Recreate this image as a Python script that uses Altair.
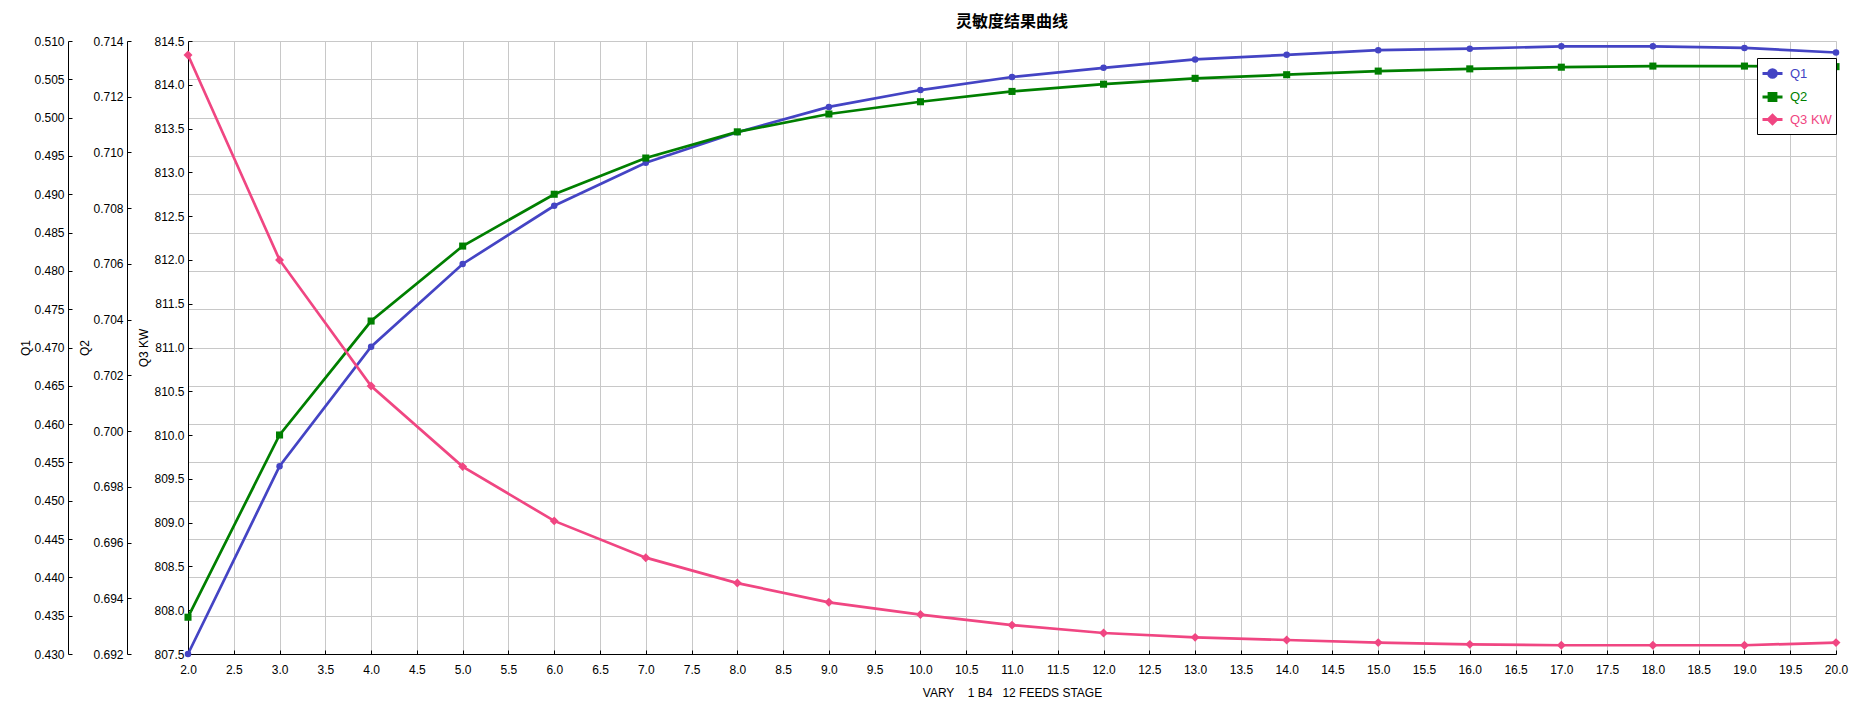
import altair as alt
import pandas as pd

# ---- data ----
stages = [2, 3, 4, 5, 6, 7, 8, 9, 10, 11, 12, 13, 14, 15, 16, 17, 18, 19, 20]
q1 = [0.4300, 0.4545, 0.4701, 0.4809, 0.4885, 0.4941, 0.4981, 0.5014, 0.5036, 0.5053,
      0.5065, 0.5076, 0.5082, 0.5088, 0.5090, 0.5093, 0.5093, 0.5091, 0.5085]
q2 = [0.69332, 0.69986, 0.70395, 0.70664, 0.70850, 0.70980, 0.71074, 0.71138, 0.71182, 0.71219,
      0.71245, 0.71266, 0.71279, 0.71292, 0.71300, 0.71306, 0.71310, 0.71310, 0.71308]
q3 = [814.34, 812.00, 810.56, 809.64, 809.02, 808.60, 808.31, 808.09, 807.95, 807.83,
      807.74, 807.69, 807.66, 807.63, 807.61, 807.60, 807.60, 807.60, 807.63]

x_ticks = [2.0, 2.5, 3.0, 3.5, 4.0, 4.5, 5.0, 5.5, 6.0, 6.5, 7.0, 7.5, 8.0, 8.5, 9.0, 9.5,
           10.0, 10.5, 11.0, 11.5, 12.0, 12.5, 13.0, 13.5, 14.0, 14.5, 15.0, 15.5, 16.0,
           16.5, 17.0, 17.5, 18.0, 18.5, 19.0, 19.5, 20.0]
q1_ticks = [0.430, 0.435, 0.440, 0.445, 0.450, 0.455, 0.460, 0.465, 0.470, 0.475, 0.480,
            0.485, 0.490, 0.495, 0.500, 0.505, 0.510]
q2_ticks = [0.692, 0.694, 0.696, 0.698, 0.700, 0.702, 0.704, 0.706, 0.708, 0.710, 0.712, 0.714]
q3_ticks = [807.5, 808.0, 808.5, 809.0, 809.5, 810.0, 810.5, 811.0, 811.5, 812.0, 812.5,
            813.0, 813.5, 814.0, 814.5]

series_names = ["Q1", "Q2", "Q3 KW"]
series_colors = ["#4444c4", "#007f00", "#f04682"]

title_text = "灵敏度结果曲线"
x_title = "VARY\u00a0\u00a0\u00a0 1 B4\u00a0\u00a0 12 FEEDS STAGE"

df = pd.DataFrame({"stage": stages, "q1": q1, "q2": q2, "q3": q3})

W, H = 1648, 613
GRID = "#c8c8c8"
FONT = "Liberation Sans"

x_enc = alt.X(
    "stage:Q",
    scale=alt.Scale(domain=[2, 20], nice=False, zero=False),
    axis=alt.Axis(
        orient="top", offset=-H, values=x_ticks, format=".1f",
        grid=True, gridColor=GRID, gridWidth=1,
        tickSize=4, tickColor="black", domainColor="black",
        labelPadding=-14, labelBaseline="top", labelFlush=False,
        labelFontSize=12, labelColor="black", labelFont=FONT,
        title=x_title, titleX=W / 2, titleY=38, titleAlign="center",
        titleBaseline="middle", titleFontWeight="normal", titleFontSize=12,
        titleFont=FONT, titleColor="black",
    ),
)


def y_axis(ticks, fmt, title, offset, title_x, grid):
    return alt.Axis(
        orient="right", offset=offset, values=ticks, format=fmt,
        grid=grid, gridColor=GRID, gridWidth=1,
        tickSize=4, tickColor="black", domainColor="black",
        labelAlign="right", labelPadding=-8, labelBaseline="middle",
        labelFontSize=12, labelColor="black", labelFont=FONT, labelFlush=False,
        title=title, titleAngle=270, titleX=title_x, titleY=H / 2,
        titleAlign="center", titleBaseline="middle", titleFontWeight="normal",
        titleFontSize=12, titleFont=FONT, titleColor="black",
    )


def series_layer(field, domain, axis, color, shape, size):
    return alt.Chart(df).mark_line(
        color=color, strokeWidth=2.7,
        point=alt.OverlayMarkDef(filled=True, shape=shape, size=size, color=color, opacity=1),
    ).encode(
        x=x_enc,
        y=alt.Y(f"{field}:Q", scale=alt.Scale(domain=domain, nice=False, zero=False), axis=axis),
    )


l1 = series_layer("q1", [0.430, 0.510], y_axis(q1_ticks, ".3f", "Q1", -1768, -43, True),
                  series_colors[0], "circle", 42)
l2 = series_layer("q2", [0.692, 0.714], y_axis(q2_ticks, ".3f", "Q2", -1709, -43, False),
                  series_colors[1], "square", 50)
l3 = series_layer("q3", [807.5, 814.5], y_axis(q3_ticks, ".1f", "Q3 KW", -W, -45, False),
                  series_colors[2], "diamond", 80)

legend_paths = [
    "M-1,0L1,0M-0.38,0A0.38,0.38,0,1,0,0.38,0A0.38,0.38,0,1,0,-0.38,0Z",
    "M-1,0L1,0M-0.34,-0.34L0.34,-0.34L0.34,0.34L-0.34,0.34Z",
    "M-1,0L1,0M0,-0.42L0.42,0L0,0.42L-0.42,0Z",
]
label_color_expr = (
    f"datum.value == 'Q1' ? '{series_colors[0]}' : "
    f"datum.value == 'Q2' ? '{series_colors[1]}' : '{series_colors[2]}'"
)
leg = alt.Legend(
    orient="none", legendX=1569, legendY=17, title=None,
    strokeColor="black", fillColor="white", padding=4, rowPadding=1.5,
    symbolSize=400, symbolStrokeWidth=3, symbolType="circle",
    labelFontSize=13, labelFont=FONT, labelOffset=6,
    labelColor={"expr": label_color_expr},
)

legend_df = pd.DataFrame({"series": series_names})
legend_layer = alt.Chart(legend_df).transform_filter("false").mark_point(
    filled=True, strokeWidth=3, opacity=1
).encode(
    fill=alt.Fill("series:N", scale=alt.Scale(domain=series_names, range=series_colors), legend=leg),
    stroke=alt.Stroke("series:N", scale=alt.Scale(domain=series_names, range=series_colors), legend=leg),
    shape=alt.Shape("series:N", scale=alt.Scale(domain=series_names, range=legend_paths), legend=leg),
)

chart = alt.layer(l1, l2, l3, legend_layer).resolve_scale(y="independent").properties(
    width=W, height=H,
    title=alt.TitleParams(title_text, font="Noto Sans CJK SC", fontSize=16, fontWeight="bold",
                          anchor="middle", frame="group", offset=5, color="black"),
    autosize=alt.AutoSizeParams(type="none"),
    padding={"left": 180, "top": 33, "right": 15, "bottom": 50},
).configure_view(strokeWidth=0).configure(font=FONT)

chart.save("out.html", embed_options={"renderer": "svg", "actions": False})
